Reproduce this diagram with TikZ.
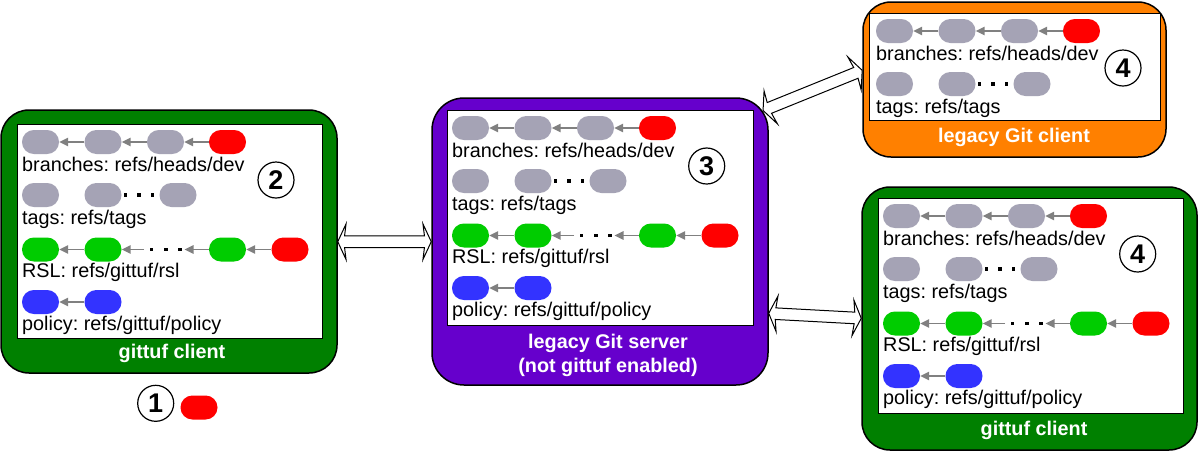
\documentclass[tikz,border=0pt]{standalone}
\usepackage{fontspec}
\setmainfont{Liberation Sans}
\usetikzlibrary{shapes.arrows,arrows.meta,calc}
\definecolor{pgray}{RGB}{165,163,181}
\definecolor{pred}{RGB}{255,0,0}
\definecolor{pgreen}{RGB}{0,204,0}
\definecolor{pblue}{RGB}{51,51,255}
\definecolor{arrgray}{RGB}{128,128,128}
\definecolor{boxgreen}{RGB}{0,128,0}
\definecolor{boxpurple}{RGB}{102,0,204}
\definecolor{boxorange}{RGB}{255,128,0}
\frenchspacing
\tikzset{
 pill/.style={rectangle, rounded corners=11.9pt, minimum width=37pt, minimum height=24pt, inner sep=0pt},
 pg/.style={pill, fill=pgray}, pr/.style={pill, fill=pred},
 pgn/.style={pill, fill=pgreen}, pb/.style={pill, fill=pblue},
 parr/.style={draw=arrgray, line width=1.5pt, -{Triangle[length=9pt,width=8.5pt]}},
 dotm/.style={rectangle, fill=black, inner sep=0pt, minimum size=3.8pt},
 reflabel/.style={anchor=base west, inner sep=0pt, font=\fontsize{19.8}{22}\selectfont},
 num/.style={circle, draw=black, line width=1.2pt, fill=white, minimum size=36pt, inner sep=0pt, font=\fontsize{27}{27}\selectfont\bfseries},
 outerbox/.style={rectangle, draw=black, line width=1.5pt, rounded corners=28pt, inner sep=0pt},
 innerbox/.style={rectangle, draw=black, line width=1pt, fill=white, inner sep=0pt},
 boxlabel/.style={text=white, inner sep=0pt, font=\fontsize{19.8}{24}\selectfont\bfseries, align=center},
 darrow/.style={double arrow, draw=black, line width=1pt, fill=white, inner sep=5.3pt,
   double arrow head extend=12pt, double arrow tip angle=130, double arrow head indent=1.5pt, minimum width=34pt}
}
% #1 prefix, #2 x of first pill's left edge, #3 top of inner box
\newcommand\branchrow[3]{%
 \node[pg] (#1b1) at (#2+18.5,#3+18) {};
 \node[pg] (#1b2) at (#2+81,#3+18) {};
 \node[pg] (#1b3) at (#2+143.5,#3+18) {};
 \node[pr] (#1b4) at (#2+205.5,#3+18) {};
 \draw[parr] (#1b2.west) -- (#1b1.east);
 \draw[parr] (#1b3.west) -- (#1b2.east);
 \draw[parr] (#1b4.west) -- (#1b3.east);
 \node[reflabel] (#1bt) at (#2,#3+47) {branches: refs/heads/dev};
}
\newcommand\tagrow[3]{%
 \node[pg] (#1t1) at (#2+18.5,#3+71) {};
 \node[pg] (#1t2) at (#2+81,#3+71) {};
 \node[pg] (#1t3) at (#2+156,#3+71) {};
 \node[dotm] (#1td1) at (#2+103.5,#3+71) {};
 \node[dotm] (#1td2) at (#2+117,#3+71) {};
 \node[dotm] (#1td3) at (#2+130.5,#3+71) {};
 \node[reflabel] (#1tt) at (#2,#3+100) {tags: refs/tags};
}
\newcommand\rslrow[3]{%
 \node[pgn] (#1r1) at (#2+18.5,#3+125.5) {};
 \node[pgn] (#1r2) at (#2+81,#3+125.5) {};
 \node[pgn] (#1r3) at (#2+205.5,#3+125.5) {};
 \node[pr] (#1r4) at (#2+268,#3+125.5) {};
 \draw[parr] (#1r2.west) -- (#1r1.east);
 \coordinate (#1rc1) at (#2+122,#3+125.5);
 \draw[parr] (#1rc1) -- (#1r2.east);
 \node[dotm] (#1rd1) at (#2+129.5,#3+125.5) {};
 \node[dotm] (#1rd2) at (#2+144,#3+125.5) {};
 \node[dotm] (#1rd3) at (#2+158,#3+125.5) {};
 \coordinate (#1rc2) at (#2+162.5,#3+125.5);
 \draw[parr] (#1r3.west) -- (#1rc2);
 \draw[parr] (#1r4.west) -- (#1r3.east);
 \node[reflabel] (#1rt) at (#2,#3+153.5) {RSL: refs/gittuf/rsl};
}
\newcommand\policyrow[3]{%
 \node[pb] (#1p1) at (#2+18.5,#3+178) {};
 \node[pb] (#1p2) at (#2+81,#3+178) {};
 \draw[parr] (#1p2.west) -- (#1p1.east);
 \node[reflabel] (#1pt) at (#2,#3+206) {policy: refs/gittuf/policy};
}
\begin{document}
\begin{tikzpicture}[x=1pt,y=-1pt]
\useasboundingbox (0,0) rectangle (1200,451);
% ---------- left gittuf client ----------
\node[outerbox, fill=boxgreen, minimum width=336pt, minimum height=263pt] (Lout) at (169,241.5) {};
\node[innerbox, minimum width=305pt, minimum height=214pt] (Lin) at (169.5,231) {};
\branchrow{L}{22}{124}
\tagrow{L}{22}{124}
\rslrow{L}{22}{124}
\policyrow{L}{22}{124}
\node[num] (Lnum) at (276,180) {2};
\node[boxlabel] (Llab) at (172,353) {gittuf client};
% ---------- step 1 ----------
\node[num] (one) at (155.7,403.3) {1};
\node[pr] (onepill) at (199,407.5) {};
% ---------- middle legacy Git server ----------
\node[outerbox, fill=boxpurple, rounded corners=32pt, minimum width=336pt, minimum height=287pt] (Mout) at (600,241.5) {};
\node[innerbox, minimum width=306pt, minimum height=215pt] (Min) at (600,217.5) {};
\branchrow{M}{452}{110}
\tagrow{M}{452}{110}
\rslrow{M}{452}{110}
\policyrow{M}{452}{110}
\node[num] (Mnum) at (706.7,166) {3};
\node[boxlabel] (Mlab) at (608,355) {legacy Git server\\(not gittuf enabled)};
% ---------- top right legacy Git client ----------
\node[outerbox, fill=boxorange, minimum width=303pt, minimum height=155pt] (Tout) at (1014.5,79.5) {};
\node[innerbox, minimum width=291pt, minimum height=107pt] (Tin) at (1014.5,66.5) {};
\branchrow{T}{876}{13}
\tagrow{T}{876}{13}
\node[num] (Tnum) at (1123,68) {4};
\node[boxlabel] (Tlab) at (1014,137) {legacy Git client};
% ---------- bottom right gittuf client ----------
\node[outerbox, fill=boxgreen, minimum width=335pt, minimum height=263pt] (Rout) at (1029.5,318.5) {};
\node[innerbox, minimum width=305pt, minimum height=215pt] (Rin) at (1030.5,305.5) {};
\branchrow{R}{883}{198}
\tagrow{R}{883}{198}
\rslrow{R}{883}{198}
\policyrow{R}{883}{198}
\node[num] (Rnum) at (1137.7,254) {4};
\node[boxlabel] (Rlab) at (1034,430) {gittuf client};
% ---------- double arrows ----------
\coordinate (a1s) at (Lout.east |- 0,241.7);
\coordinate (a1e) at (Mout.west |- 0,241.7);
\coordinate (a2s) at (763,110.5);
\coordinate (a2e) at (Tout.west |- 0,70.3);
\coordinate (a3s) at (Mout.east |- 0,313.3);
\coordinate (a3e) at (Rout.west |- 0,318.3);
\foreach \s/\e in {a1s/a1e,a2s/a2e,a3s/a3e}{
 \path let \p1=($(\e)-(\s)$), \n1={atan2(\y1,\x1)}, \n2={veclen(\x1,\y1)} in
   node[darrow, rotate=\n1, minimum height=\n2] at ($(\s)!0.5!(\e)$) {};
}
\end{tikzpicture}
\end{document}
